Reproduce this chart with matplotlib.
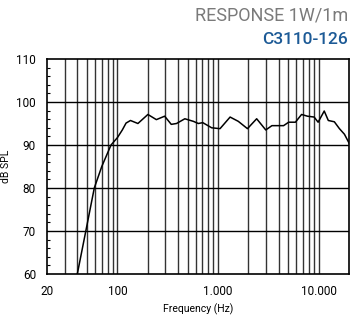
"""Loudspeaker frequency response chart (1W/1m)."""

import matplotlib
matplotlib.use("Agg")
import matplotlib.pyplot as plt
from matplotlib.ticker import FixedLocator, NullFormatter

# --- data ---
freq_hz = [40, 48.6, 59, 70, 86.5, 100, 112, 122, 135, 160, 201, 244, 295, 343,
           387, 468, 569, 638, 705, 865, 1047, 1318, 1590, 1960, 2420, 2980,
           3430, 4480, 5030, 5870, 6760, 7730, 9010, 9870, 11350, 12460,
           14300, 16070, 18020, 20500]
spl_db = [60, 70, 80, 85, 90, 91.7, 93.5, 95.1, 95.7, 95.0, 97.1, 95.9, 96.7, 94.8,
          95.0, 96.1, 95.5, 95.0, 95.2, 94.0, 93.8, 96.5, 95.5, 93.8, 96.1,
          93.5, 94.5, 94.5, 95.3, 95.3, 97.1, 96.7, 96.5, 95.3, 97.9, 95.7,
          95.4, 93.8, 92.5, 90.0]

x_ticks = [20, 100, 1000, 10000]
x_ticklabels = ["20", "100", "1.000", "10.000"]
y_ticks = [60, 70, 80, 90, 100, 110]
grid_freqs = [f * d for d in (10, 100, 1000) for f in range(2, 10)] + [100, 1000, 10000]

title_top = "RESPONSE 1W/1m"
title_model = "C3110-126"

plt.rcParams["font.family"] = ["Roboto", "DejaVu Sans"]

fig = plt.figure(figsize=(3.51, 3.20), dpi=100)
ax = fig.add_axes([47 / 351, 46 / 320, 302 / 351, 215 / 320])

ax.set_xscale("log")
ax.set_xlim(20, 20000)
ax.set_ylim(60, 110)

for f in grid_freqs:
    if 20 < f < 20000:
        ax.axvline(f, color="#333333", linewidth=1.0, zorder=1)
for y in (70, 80, 90, 100):
    ax.axhline(y, color="black", linewidth=1.0, zorder=1)

ax.plot(freq_hz, spl_db, color="black", linewidth=1.1, zorder=3, clip_on=True)

ax.xaxis.set_major_locator(FixedLocator(x_ticks))
ax.set_xticklabels(x_ticklabels)
ax.xaxis.set_minor_formatter(NullFormatter())
ax.tick_params(axis="x", which="both", length=0, labelsize=8.5, pad=8)
ax.set_yticks(y_ticks)
ax.yaxis.set_minor_locator(FixedLocator([v for v in range(60, 111, 2) if v % 10]))
ax.tick_params(axis="y", which="major", length=0, labelsize=8.5, pad=8)
ax.tick_params(axis="y", which="minor", direction="in", length=2.5, width=0.8)

for s in ax.spines.values():
    s.set_linewidth(1.2)
    s.set_color("black")

ax.set_xlabel("Frequency (Hz)", fontsize=7.5, labelpad=4)
ax.set_ylabel("dB SPL", fontsize=7.5, labelpad=4)

fig.text(348 / 351, 1 - 16 / 320, title_top, ha="right", va="center",
         fontsize=13, color="#7a7a7a")
fig.text(348 / 351, 1 - 40 / 320, title_model, ha="right", va="center",
         fontsize=12.5, color="#1c5a96", weight="medium")

fig.savefig("out.png", dpi=100)
